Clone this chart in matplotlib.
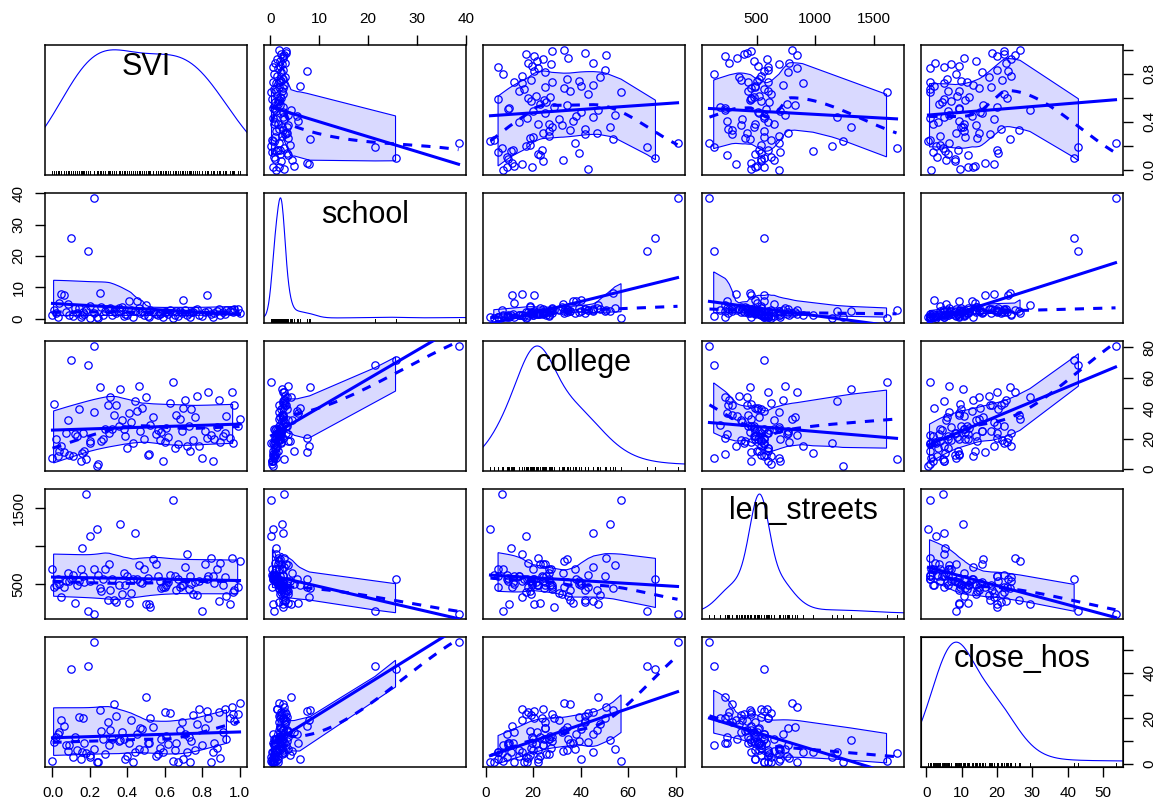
import numpy as np
import matplotlib
matplotlib.use("Agg")
import matplotlib.pyplot as plt
from matplotlib.patches import Polygon

plt.rcParams['font.family'] = ['Liberation Sans', 'DejaVu Sans']

# valores (una fila por observacion)
svi = [0.000, 0.006, 0.021, 0.027, 0.034, 0.046, 0.061, 0.072, 0.085, 0.090,
       0.100, 0.110, 0.120, 0.132, 0.141, 0.150, 0.160, 0.163, 0.168, 0.180,
       0.190, 0.200, 0.203, 0.220, 0.222, 0.240, 0.245, 0.255, 0.262, 0.272,
       0.282, 0.298, 0.303, 0.310, 0.320, 0.330, 0.340, 0.355, 0.360, 0.370,
       0.382, 0.386, 0.400, 0.410, 0.420, 0.430, 0.440, 0.450, 0.460, 0.470,
       0.480, 0.490, 0.500, 0.508, 0.515, 0.522, 0.540, 0.552, 0.562, 0.575,
       0.580, 0.590, 0.600, 0.608, 0.618, 0.630, 0.645, 0.655, 0.660, 0.672,
       0.682, 0.690, 0.700, 0.710, 0.720, 0.728, 0.735, 0.742, 0.752, 0.760,
       0.770, 0.785, 0.800, 0.815, 0.825, 0.830, 0.850, 0.856, 0.865, 0.878,
       0.890, 0.893, 0.910, 0.920, 0.930, 0.950, 0.960, 0.963, 0.970, 0.990,
       1.000]
school = [1.2, 2.8, 1.8, 0.6, 4.9, 7.8, 7.4, 2.2, 4.5, 1.0,
          25.6, 0.7, 3.5, 1.9, 3.4, 0.4, 1.2, 2.0, 1.6, 2.8,
          21.4, 0.2, 4.0, 38.5, 1.8, 0.5, 0.3, 8.0, 3.6, 1.0,
          2.4, 3.0, 3.2, 3.4, 1.1, 2.5, 1.8, 3.3, 2.3, 3.6,
          0.8, 1.5, 1.0, 5.7, 2.7, 0.6, 2.5, 5.5, 3.5, 1.9,
          2.5, 1.2, 4.2, 0.9, 0.6, 2.6, 2.0, 1.5, 1.0, 1.6,
          1.8, 0.4, 2.2, 2.0, 1.4, 2.6, 0.2, 1.2, 2.4, 0.8,
          2.5, 1.7, 6.0, 2.8, 1.1, 1.8, 0.5, 2.2, 2.0, 2.6,
          2.9, 1.3, 0.7, 2.2, 7.5, 2.5, 1.6, 0.5, 1.9, 2.3,
          3.0, 1.0, 2.0, 1.4, 2.6, 2.5, 2.7, 2.1, 3.1, 3.2,
          1.8]
college = [7.3, 43.0, 19.6, 8.8, 12.0, 15.3, 11.0, 24.0, 32.5, 9.5,
           71.5, 8.8, 22.8, 22.0, 39.5, 5.0, 10.6, 23.9, 11.6, 6.8,
           68.0, 17.0, 18.5, 80.8, 37.4, 2.0, 3.4, 53.7, 18.5, 20.0,
           26.6, 42.0, 24.0, 47.0, 26.6, 35.5, 42.0, 28.0, 52.5, 32.0,
           26.6, 22.0, 14.0, 36.8, 31.0, 17.4, 45.0, 38.0, 54.4, 25.0,
           40.0, 20.0, 47.5, 9.5, 9.9, 28.8, 34.2, 22.8, 25.4, 19.0,
           24.5, 5.2, 18.0, 27.0, 21.1, 43.2, 57.0, 14.0, 35.3, 16.3,
           33.0, 25.0, 40.0, 45.4, 15.3, 28.0, 12.0, 39.5, 19.0, 34.2,
           48.2, 15.3, 7.3, 25.0, 20.5, 50.3, 22.2, 5.2, 19.5, 27.5,
           45.4, 18.0, 21.6, 24.0, 34.6, 20.5, 50.7, 17.0, 42.0, 28.0,
           32.9]
len_streets = [691, 456, 483, 560, 505, 323, 456, 536, 650, 536,
               567, 620, 247, 491, 536, 700, 980, 600, 520, 1690,
               140, 1140, 540, 100, 691, 1233, 620, 447, 403, 560,
               691, 291, 767, 420, 560, 291, 260, 480, 1300, 367,
               647, 491, 600, 247, 380, 560, 1180, 560, 744, 520,
               513, 700, 233, 580, 233, 189, 824, 760, 602, 540,
               447, 456, 456, 480, 520, 624, 1605, 600, 424, 560,
               455, 491, 491, 727, 891, 430, 600, 500, 367, 520,
               349, 540, 136, 767, 560, 600, 847, 600, 513, 691,
               269, 780, 480, 589, 336, 233, 847, 393, 420, 456,
               802]
close_hos = [1.2, 9.5, 11.7, 13.2, 13.9, 19.0, 16.6, 8.0, 5.5, 8.0,
             41.8, 3.0, 11.7, 6.0, 20.4, 1.8, 5.3, 20.0, 9.0, 4.8,
             43.0, 2.7, 3.9, 53.5, 6.5, 0.6, 0.9, 23.6, 14.2, 11.0,
             4.0, 18.1, 8.3, 15.0, 10.7, 26.1, 21.0, 9.8, 10.4, 14.0,
             10.7, 1.8, 3.2, 9.2, 19.0, 0.9, 5.0, 13.0, 6.5, 15.7,
             15.1, 6.0, 29.3, 9.2, 9.2, 19.9, 16.1, 3.5, 4.3, 7.0,
             11.0, 5.0, 22.8, 12.0, 8.7, 22.1, 1.1, 6.0, 9.2, 0.9,
             15.0, 18.4, 2.1, 13.2, 5.0, 11.5, 0.9, 9.8, 21.5, 5.8,
             17.6, 24.0, 8.3, 15.7, 23.1, 20.0, 0.9, 5.0, 9.2, 7.0,
             22.5, 2.5, 14.0, 24.0, 10.7, 20.0, 25.0, 22.0, 18.7, 22.0,
             26.5]

nombres = ["SVI", "school", "college", "len_streets", "close_hos"]
datos = [np.array(v, float) for v in (svi, school, college, len_streets, close_hos)]

# ejes: posiciones de marcas y etiquetas visibles
marcas = [[0, 0.2, 0.4, 0.6, 0.8, 1.0],
          [0, 10, 20, 30, 40],
          [0, 20, 40, 60, 80],
          [500, 1000, 1500],
          [0, 10, 20, 30, 40, 50]]
etiq_x = [["0.0", "0.2", "0.4", "0.6", "0.8", "1.0"],
          ["0", "10", "20", "30", "40"],
          ["0", "20", "40", "60", "80"],
          ["500", "1000", "1500"],
          ["0", "10", "20", "30", "40", "50"]]
etiq_y = [["0.0", "", "0.4", "", "0.8", ""],
          ["0", "10", "20", "30", "40"],
          ["0", "20", "40", "60", "80"],
          ["500", "", "1500"],
          ["0", "", "20", "", "40", ""]]

AZUL = (0, 0, 1)


def tricubo(u):
    u = np.clip(np.abs(u), 0, 1)
    return (1 - u ** 3) ** 3


def vertices_kd(x, fc):
    # celdas 1D como en loess(surface="interpolate"): se parte por la mediana
    xs = np.sort(x)
    t = 0.005 * max(xs[-1] - xs[0], 1e-10)
    verts = {xs[0] - t, xs[-1] + t}

    def partir(pts):
        m = len(pts)
        if m <= fc:
            return
        v = pts[m // 2] if m % 2 else 0.5 * (pts[m // 2 - 1] + pts[m // 2])
        izq, der = pts[pts <= v], pts[pts > v]
        if len(izq) == m or len(der) == m or len(der) == 0:
            return
        verts.add(v)
        partir(izq)
        partir(der)

    partir(xs)
    return np.array(sorted(verts))


def pendientes_pchip(vx, vy):
    h = np.diff(vx)
    delta = np.diff(vy) / h
    d = np.zeros_like(vy)
    d[0], d[-1] = delta[0], delta[-1]
    for k in range(1, len(vx) - 1):
        if delta[k - 1] * delta[k] <= 0:
            d[k] = 0.0
        else:
            w1 = 2 * h[k] + h[k - 1]
            w2 = h[k] + 2 * h[k - 1]
            d[k] = (w1 + w2) / (w1 / delta[k - 1] + w2 / delta[k])
    return d


def loess(x, y, xeval, span=2 / 3, grado=1, iteraciones=4):
    x = np.asarray(x, float)
    y = np.asarray(y, float)
    xeval = np.asarray(xeval, float)
    n = len(x)
    q = max(int(np.floor(span * n)), grado + 1)
    fc = max(int(np.floor(n * span * 0.2)), 1)
    rw = np.ones(n)
    vts = vertices_kd(x, fc)

    def ajuste(x0):
        d = np.abs(x - x0)
        h = max(np.sort(d)[q - 1], 1e-9)
        w = tricubo(d / h) * rw
        if w.sum() <= 0:
            w = tricubo(d / h)
        if grado == 0:
            return np.sum(w * y) / np.sum(w)
        X = np.column_stack([np.ones(n), x - x0])
        A = X.T @ (X * w[:, None])
        b = X.T @ (w * y)
        beta = np.linalg.lstsq(A, b, rcond=None)[0]
        return beta[0]

    def superficie(xe):
        if grado == 0:
            return np.array([ajuste(x0) for x0 in xe])
        vy = np.array([ajuste(v) for v in vts])
        dv = pendientes_pchip(vts, vy)
        k = np.clip(np.searchsorted(vts, xe) - 1, 0, len(vts) - 2)
        x0, x1 = vts[k], vts[k + 1]
        hh = x1 - x0
        t = (xe - x0) / hh
        h00 = 2 * t ** 3 - 3 * t ** 2 + 1
        h10 = t ** 3 - 2 * t ** 2 + t
        h01 = -2 * t ** 3 + 3 * t ** 2
        h11 = t ** 3 - t ** 2
        return (h00 * vy[k] + h10 * hh * dv[k] + h01 * vy[k + 1] + h11 * hh * dv[k + 1])

    for _ in range(iteraciones - 1):
        res = y - superficie(x)
        s = np.median(np.abs(res))
        if s <= 0:
            break
        u = res / (6 * s)
        rw = np.where(np.abs(u) < 1, (1 - u ** 2) ** 2, 0.0)
    return superficie(xeval)


def densidad_adaptativa(x, grilla, ajuste=1.4):
    n = len(x)
    iqr = np.subtract(*np.percentile(x, [75, 25]))
    bw = ajuste * 0.9 * min(np.std(x, ddof=1), iqr / 1.34) * n ** (-0.2)
    piloto = np.array([np.mean(np.exp(-0.5 * ((xi - x) / bw) ** 2)) / (bw * np.sqrt(2 * np.pi)) for xi in x])
    g = np.exp(np.mean(np.log(piloto)))
    h = bw * (piloto / g) ** (-0.5)
    z = (grilla[:, None] - x[None, :]) / h[None, :]
    return np.mean(np.exp(-0.5 * z ** 2) / (h[None, :] * np.sqrt(2 * np.pi)), axis=1)


limites = []
for v in datos:
    r = v.max() - v.min()
    limites.append((v.min() - 0.04 * r, v.max() + 0.04 * r))

fig, axes = plt.subplots(5, 5, figsize=(11.67, 8.11), dpi=100)
fig.subplots_adjust(left=45 / 1167, right=1123 / 1167, top=1 - 45 / 811, bottom=1 - 767 / 811,
                    wspace=0.084, hspace=0.142)

estilo_ticks = dict(direction='out', length=7, width=1, labelsize=11, pad=7, colors='black')

for i in range(5):
    for j in range(5):
        ax = axes[i, j]
        ax.set_xlim(limites[j])
        for sp in ax.spines.values():
            sp.set_linewidth(1.1)
        ax.tick_params(bottom=False, left=False, labelbottom=False, labelleft=False)

        if i == j:
            v = datos[i]
            grilla = np.linspace(limites[i][0], limites[i][1], 400)
            dens = densidad_adaptativa(v, grilla)
            ax.plot(grilla, dens, color=AZUL, lw=0.8)
            ax.set_ylim(-0.04 * dens.max(), 1.04 * dens.max())
            for xv in v:
                ax.plot([xv, xv], [0, 0.03], color='black', lw=0.7,
                        transform=ax.get_xaxis_transform())
            ax.text(0.5, 0.83, nombres[i], transform=ax.transAxes, ha='center', va='center',
                    fontsize=22)
        else:
            x = datos[j]
            y = datos[i]
            ax.set_ylim(limites[i])
            # loess robusto y bandas de dispersion (sin pasos robustos)
            ajustado = loess(x, y, x)
            res = y - ajustado
            pos = res > 0
            neg = ~pos
            xp, xn = x[pos], x[neg]
            sp_pos = loess(xp, res[pos] ** 2, xp, grado=0, iteraciones=1)
            sp_neg = loess(xn, res[neg] ** 2, xn, grado=0, iteraciones=1)
            op = np.argsort(xp)
            on = np.argsort(xn)
            sup_x, sup_y = xp[op], (ajustado[pos] + np.sqrt(sp_pos))[op]
            inf_x, inf_y = xn[on], (ajustado[neg] - np.sqrt(sp_neg))[on]
            a = max(sup_x.min(), inf_x.min())
            b = min(sup_x.max(), inf_x.max())
            xx = np.unique(np.concatenate([sup_x, inf_x]))
            xx = xx[(xx >= a) & (xx <= b)]
            arriba = np.interp(xx, sup_x, sup_y)
            abajo = np.interp(xx, inf_x, inf_y)
            poli = np.column_stack([np.concatenate([xx, xx[::-1]]),
                                    np.concatenate([arriba, abajo[::-1]])])
            ax.add_patch(Polygon(poli, closed=True, facecolor=(0, 0, 1, 0.15),
                                 edgecolor=AZUL, lw=0.8, zorder=1))
            ax.plot(x, y, 'o', mfc='none', mec=AZUL, ms=5.3, mew=0.9, zorder=2)
            m, c = np.polyfit(x, y, 1)
            xr = np.array([x.min(), x.max()])
            ax.plot(xr, m * xr + c, color=AZUL, lw=2.2, zorder=3)
            xg = np.linspace(x.min(), x.max(), 150)
            ax.plot(xg, loess(x, y, xg), color=AZUL, lw=2.2, ls=(0, (3, 3)), zorder=3)

        # ejes al estilo pairs(): arriba/abajo y izquierda/derecha alternados
        if i == 0 and j % 2 == 1:
            ax.xaxis.set_ticks_position('top')
            ax.set_xticks(marcas[j], etiq_x[j])
            ax.tick_params(axis='x', top=True, labeltop=True, **estilo_ticks)
        if i == 4 and j % 2 == 0:
            ax.set_xticks(marcas[j], etiq_x[j])
            ax.tick_params(axis='x', bottom=True, labelbottom=True, **estilo_ticks)
        if j == 0 and i % 2 == 1:
            ax.set_yticks(marcas[i], etiq_y[i])
            ax.tick_params(axis='y', left=True, labelleft=True, labelrotation=90, **estilo_ticks)
            for t in ax.get_yticklabels():
                t.set_va('center')
        if j == 4 and i % 2 == 0:
            eje = ax.twinx() if i == j else ax
            eje.set_ylim(limites[i])
            eje.set_yticks(marcas[i], etiq_y[i])
            eje.yaxis.set_ticks_position('right')
            eje.tick_params(axis='y', right=True, labelright=True, left=False, labelleft=False,
                            labelrotation=90, **estilo_ticks)
            for t in eje.get_yticklabels():
                t.set_va('center')
        if not (i == 0 and j % 2 == 1) and not (i == 4 and j % 2 == 0):
            ax.set_xticks([])
        if not (j == 0 and i % 2 == 1) and not (j == 4 and i % 2 == 0 and i != j):
            ax.set_yticks([])

fig.savefig("out.png", dpi=100)
